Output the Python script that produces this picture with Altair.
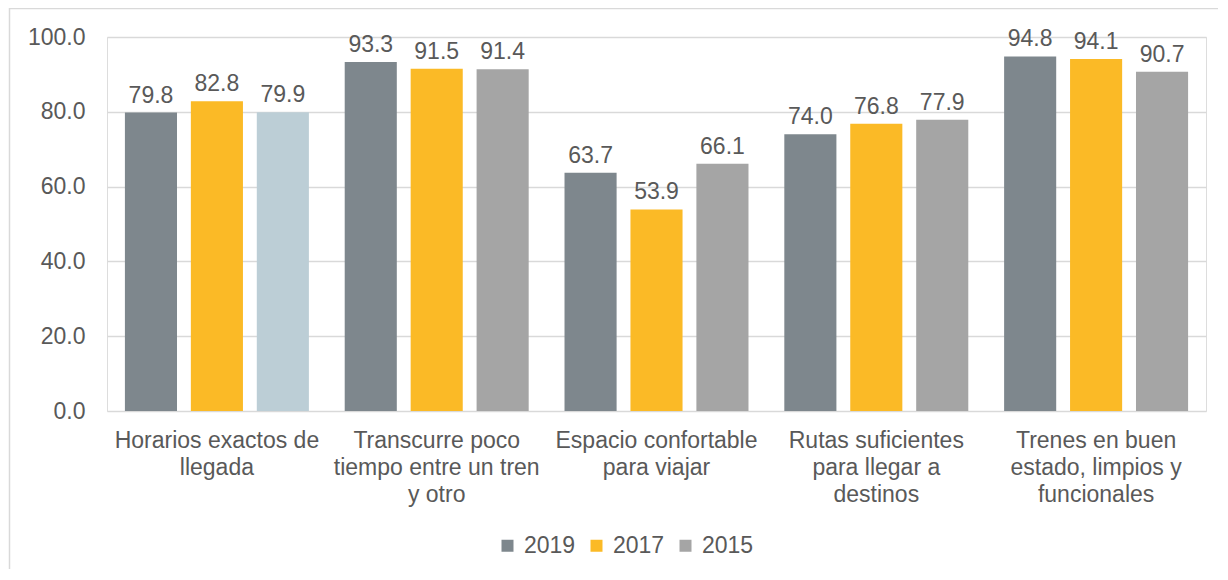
import altair as alt
import pandas as pd

categories = [
    "Horarios exactos de|llegada",
    "Transcurre poco|tiempo entre un tren|y otro",
    "Espacio confortable|para viajar",
    "Rutas suficientes|para llegar a|destinos",
    "Trenes en buen|estado, limpios y|funcionales",
]
years = ["2019", "2017", "2015"]
values_2019 = [79.8, 93.3, 63.7, 74.0, 94.8]
values_2017 = [82.8, 91.5, 53.9, 76.8, 94.1]
values_2015 = [79.9, 91.4, 66.1, 77.9, 90.7]
colors = ["#7E878D", "#FBBA26", "#A5A5A5"]
special_color = "#BCCED6"

rows = []
for yr, vals in zip(years, [values_2019, values_2017, values_2015]):
    for i, (c, v) in enumerate(zip(categories, vals)):
        rows.append({"cat": c, "year": yr, "value": v,
                     "special": (yr == "2015" and i == 0)})
df = pd.DataFrame(rows)

FONT = "Liberation Sans"
TXT = "#595959"
FS = 23

x = alt.X("cat:N", sort=categories, title=None,
          scale=alt.Scale(paddingInner=0.163, paddingOuter=0.0815),
          axis=alt.Axis(labelExpr="split(datum.label, '|')", labelAngle=0,
                        labelFontSize=FS, labelColor=TXT, labelFont=FONT,
                        labelLineHeight=27, labelPadding=18, ticks=False,
                        domain=False, labelLimit=400))
xoff = alt.XOffset("year:N", sort=years,
                   scale=alt.Scale(domain=years, paddingInner=0.21, paddingOuter=0))
y = alt.Y("value:Q", title=None,
          scale=alt.Scale(domain=[0, 100]),
          axis=alt.Axis(values=[0, 20, 40, 60, 80, 100], format=".1f",
                        labelFontSize=FS, labelColor=TXT, labelFont=FONT,
                        labelPadding=22, ticks=False, domain=False,
                        gridColor="#D9D9D9", gridWidth=1.5))

base = alt.Chart(df)
bars = base.mark_bar().encode(
    x=x, xOffset=xoff, y=y,
    color=alt.condition(
        "datum.special",
        alt.value(special_color),
        alt.Color("year:N", sort=years,
                  scale=alt.Scale(domain=years, range=colors),
                  legend=alt.Legend(title=None, orient="none", direction="horizontal",
                                    legendX=389, legendY=497,
                                    symbolType="square", symbolSize=144,
                                    symbolStrokeWidth=0,
                                    labelFontSize=FS, labelColor=TXT, labelFont=FONT,
                                    labelOffset=5, columnPadding=9)),
    ),
)
labels = base.mark_text(baseline="alphabetic", dy=-10, fontSize=FS,
                        font=FONT, color=TXT).encode(
    x=x, xOffset=xoff, y=y, text=alt.Text("value:Q", format=".1f"))

one = pd.DataFrame({"a": [0]})
left_border = alt.Chart(one).mark_rule(color="#D9D9D9", strokeWidth=1.5).encode(
    x=alt.value(-97.5), y=alt.value(-30), y2=alt.value(700))
top_border = alt.Chart(one).mark_rule(color="#D9D9D9", strokeWidth=1.5).encode(
    x=alt.value(-98), x2=alt.value(1300), y=alt.value(-28.5))

chart = alt.layer(bars, labels, left_border, top_border).properties(
    width=1099, height=374,
    autosize=alt.AutoSizeParams(type="none"),
    padding={"left": 99, "top": 29, "right": 12, "bottom": 158},
).configure_view(stroke=None).configure(background="white")

chart.save("out.html", embed_options={"renderer": "svg", "actions": False})
